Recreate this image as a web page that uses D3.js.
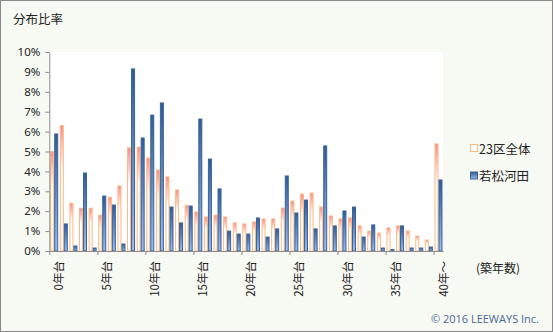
<!DOCTYPE html>
<html><head><meta charset="utf-8">
<script src="https://cdn.jsdelivr.net/npm/d3@7"></script>
<style>
body{margin:0;background:#fff;}
svg{display:block;font-family:"Noto Sans CJK JP","Noto Sans",sans-serif;}
</style></head>
<body><svg id="c" width="553" height="332"></svg>
<script>
const categories = d3.range(0, 41);
const seriesNames = ["23区全体", "若松河田"];
const ward23 = [5.0,6.3,2.4,2.15,2.15,1.8,2.7,3.27,5.18,5.22,4.67,4.07,3.72,3.07,2.3,1.96,1.71,1.8,1.71,1.41,1.36,1.46,1.61,1.61,2.16,2.51,2.86,2.91,2.21,1.76,1.61,1.66,1.26,1.0,0.9,1.16,1.26,1.0,0.75,0.55,5.38];
const wakamatsu = [5.88,1.36,0.25,3.92,0.15,2.76,2.31,0.35,9.15,5.68,6.83,7.44,2.21,1.41,2.26,6.63,4.62,3.12,1.0,0.85,0.85,1.66,0.7,1.11,3.77,1.91,2.56,1.11,5.28,1.26,2.01,2.21,0.7,1.31,0.15,0.07,1.26,0.15,0.15,0.2,3.57];
const yTicks = [0,1,2,3,4,5,6,7,8,9,10];
const xTickValues = [0,5,10,15,20,25,30,35,40];
const xTickLabels = ["0年台","5年台","10年台","15年台","20年台","25年台","30年台","35年台","40年～"];

(function(){
const svg = d3.select("#c");
const W = 553, H = 332;
const pL = 49.3, pR = 443.2, pT = 52, pB = 251;

svg.append("rect").attr("x",0.5).attr("y",0.5).attr("width",W-1).attr("height",H-1)
  .attr("fill","#f7f9f3").attr("stroke","#8a8a8a");
svg.append("rect").attr("x",pL).attr("y",pT).attr("width",pR-pL).attr("height",pB-pT).attr("fill","#ffffff");

const defs = svg.append("defs");
const go = defs.append("linearGradient").attr("id","gOrange").attr("x1",0).attr("y1",0).attr("x2",0).attr("y2",1);
go.append("stop").attr("offset","0%").attr("stop-color","#f98b8b");
go.append("stop").attr("offset","35%").attr("stop-color","#ffffff");
go.append("stop").attr("offset","100%").attr("stop-color","#ffffff");
const gb = defs.append("linearGradient").attr("id","gBlue").attr("x1",0).attr("y1",0).attr("x2",0).attr("y2",1);
gb.append("stop").attr("offset","0%").attr("stop-color","#2f5b94");
gb.append("stop").attr("offset","100%").attr("stop-color","#9ebde6");

const x = d3.scaleBand().domain(categories).range([pL, pR]).padding(0);
const xLin = d3.scaleLinear().domain([0, categories.length]).range([pL, pR]);
const x1 = d3.scaleBand().domain(seriesNames).range([0.9, 8.9]).padding(0);
const y = d3.scaleLinear().domain([0, 10]).range([pB, pT]);

const data = categories.map((c,i)=>({c, vals:[{s:seriesNames[0],v:ward23[i]},{s:seriesNames[1],v:wakamatsu[i]}]}));
svg.append("g").selectAll("g.cat").data(data).join("g").attr("class","cat")
  .attr("transform", d=>`translate(${x(d.c)},0)`)
  .selectAll("rect").data(d=>d.vals).join("rect")
  .attr("x", d=>x1(d.s)+0.5)
  .attr("width", x1.bandwidth()-1)
  .attr("y", d=>y(d.v))
  .attr("height", d=>Math.max(0, pB - y(d.v)))
  .attr("fill", d=> d.s===seriesNames[0] ? "url(#gOrange)" : "url(#gBlue)")
  .attr("stroke", d=> d.s===seriesNames[0] ? "#fbb983" : "#3a639c")
  .attr("stroke-width", 1);

const yAxis = svg.append("g").attr("transform",`translate(${pL},0)`)
  .call(d3.axisLeft(y).tickValues(yTicks).tickFormat(d=>d+"%").tickSize(4).tickSizeOuter(0));
yAxis.select(".domain").attr("stroke","#8c8c8c");
yAxis.selectAll(".tick line").attr("stroke","#8c8c8c");
yAxis.selectAll("text").attr("fill","#222").attr("font-size","11.5px").attr("x",-9)
  .attr("font-family","'Noto Sans','DejaVu Sans',sans-serif");

const xAxis = svg.append("g").attr("transform",`translate(0,${pB})`)
  .call(d3.axisBottom(xLin).tickValues(xTickValues).tickFormat("").tickSize(4).tickSizeOuter(0));
xAxis.select(".domain").attr("stroke","#8c8c8c");
xAxis.selectAll(".tick line").attr("stroke","#8c8c8c");

svg.append("g").selectAll("text").data(xTickValues).join("text")
  .attr("transform", d=>`translate(${xLin(d)+9},${pB+10}) rotate(-90)`)
  .attr("text-anchor","end").attr("dominant-baseline","central")
  .attr("font-size","11.5px").attr("fill","#222")
  .text((d,i)=>xTickLabels[i]);

svg.append("text").attr("x",13).attr("y",24).attr("font-size","12.5px").attr("fill","#222").text("分布比率");

const leg = svg.append("g");
seriesNames.forEach((s,i)=>{
  const yy = 148 + i*27.5;
  leg.append("rect").attr("x",470.5).attr("y",yy-3.5).attr("width",7).attr("height",7)
    .attr("fill", i===0 ? "#ffffff" : "url(#gBlue)")
    .attr("stroke", i===0 ? "#fbb983" : "#3a639c");
  leg.append("text").attr("x",479).attr("y",yy).attr("dominant-baseline","central")
    .attr("font-size","12.5px").attr("fill","#222").text(s);
});

svg.append("text").attr("x",476).attr("y",267).attr("dominant-baseline","central")
  .attr("font-size","12px").attr("fill","#222").text("(築年数)");

svg.append("text").attr("x",539).attr("y",318).attr("text-anchor","end").attr("dominant-baseline","central")
  .attr("font-size","11px").attr("fill","#4a6896").attr("font-family","'Open Sans','Noto Sans',sans-serif")
  .text("© 2016 LEEWAYS Inc.");
})();
</script></body></html>
